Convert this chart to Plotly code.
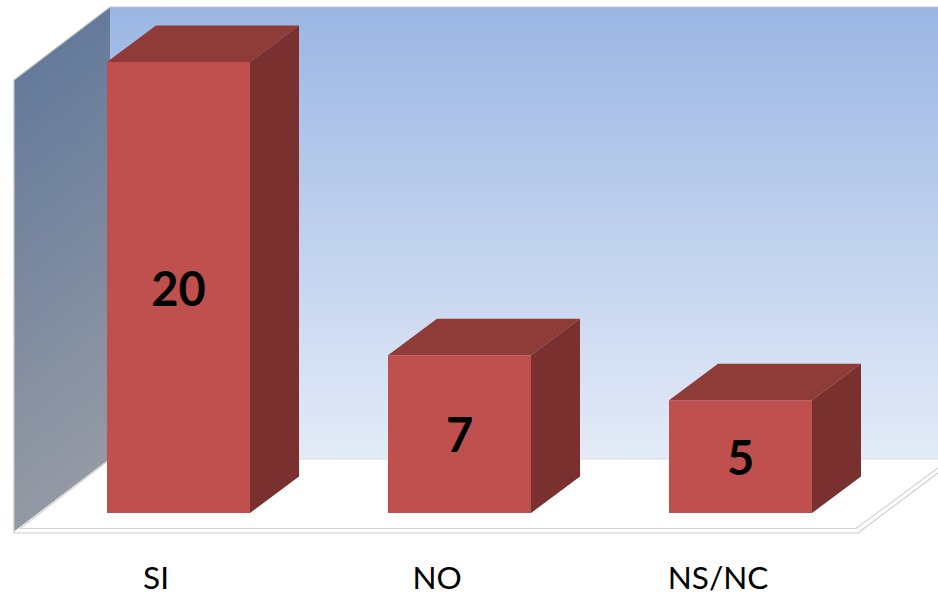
import plotly.graph_objects as go

categories = ["SI", "NO", "NS/NC"]
values = [20, 7, 5]
positions = [0, 1, 2]
label_positions = [-0.08, 0.92, 1.92]

W, H = 938, 596
X0_PX, X_UNIT = 178.5, 281.0
Y0_PX, Y_UNIT = 513.0, 22.55
BAR_WIDTH = 143 / X_UNIT
DX = 49 / X_UNIT
DY = 36.5 / Y_UNIT
FRONT, TOP, SIDE = "#C0504D", "#8F3B37", "#7A302E"


def lerp(a, b, t):
    return tuple(a[i] + (b[i] - a[i]) * t for i in range(3))


def rgb(c):
    return "rgb(%d,%d,%d)" % tuple(round(v) for v in c)


def pth(points):
    return "M " + " L ".join(f"{x / W:.5f},{1 - y / H:.5f}" for x, y in points) + " Z"


def poly(points, fill=None, line=None, width=1):
    return dict(type="path", xref="paper", yref="paper", layer="below", path=pth(points),
                fillcolor=fill or "rgba(0,0,0,0)",
                line=dict(color=line or "rgba(0,0,0,0)", width=width if line else 0))


shapes = []
# back wall gradient
N = 90
for i in range(N):
    t0, t1 = i / N, (i + 1) / N
    y0, y1 = 7 + 452 * t0, 7 + 452 * t1 + 1
    c = lerp((155, 182, 228), (228, 235, 247), (t0 + t1) / 2)
    shapes.append(poly([(110, y0), (938, y0), (938, min(y1, 459)), (110, min(y1, 459))], fill=rgb(c)))
# side wall gradient
for i in range(N):
    t0, t1 = i / N, (i + 1) / N
    h = 451.5
    c = lerp((101, 122, 155), (148, 154, 164), (t0 + t1) / 2)
    a0, a1 = h * t0, min(h * t1 + 1, h)
    shapes.append(poly([(14, 80 + a0), (110, 7 + a0), (110, 7 + a1), (14, 80 + a1)], fill=rgb(c)))
# edges and floor
shapes.append(poly([(14, 532), (110, 459), (938, 459), (938, 471), (858, 532)], fill="#FFFFFF"))
shapes.append(dict(type="path", xref="paper", yref="paper", layer="below",
                   path=pth([(14, 533), (858, 533), (938, 473)]).replace(" Z", ""),
                   line=dict(color="#CFCFCF", width=1.2)))
shapes.append(dict(type="path", xref="paper", yref="paper", layer="below",
                   path=pth([(938, 468), (856, 528.5), (20, 528.5), (108, 461)]).replace(" Z", ""),
                   line=dict(color="#D4D4D4", width=1.2)))
shapes.append(dict(type="path", xref="paper", yref="paper", layer="below",
                   path=pth([(110, 459), (938, 459)]).replace(" Z", ""),
                   line=dict(color="#DADADA", width=1.2)))
shapes.append(dict(type="path", xref="paper", yref="paper", layer="below",
                   path=pth([(14, 533), (14, 80), (110, 7), (938, 7)]).replace(" Z", ""),
                   line=dict(color="#C4C4C4", width=1.2)))

fig = go.Figure()
fig.add_trace(go.Bar(
    x=positions, y=values, width=BAR_WIDTH, marker=dict(color=FRONT, line=dict(width=0)),
    text=[str(v) for v in values], textposition="inside", insidetextanchor="middle",
    textangle=0, constraintext="none",
    textfont=dict(family="Lato", size=47, color="#000000", weight="bold"),
    showlegend=False, hoverinfo="skip"))

for x, v in zip(positions, values):
    l, r = x - BAR_WIDTH / 2, x + BAR_WIDTH / 2
    fig.add_trace(go.Scatter(x=[l, r, r + DX, l + DX, l], y=[v, v, v + DY, v + DY, v],
                             fill="toself", fillcolor=TOP, mode="lines", line=dict(width=0),
                             showlegend=False, hoverinfo="skip"))
    fig.add_trace(go.Scatter(x=[r, r + DX, r + DX, r, r], y=[0, DY, v + DY, v, 0],
                             fill="toself", fillcolor=SIDE, mode="lines", line=dict(width=0),
                             showlegend=False, hoverinfo="skip"))

fig.update_layout(
    width=W, height=H, margin=dict(l=0, r=0, t=0, b=0, autoexpand=False),
    paper_bgcolor="#FFFFFF", plot_bgcolor="rgba(0,0,0,0)", shapes=shapes, showlegend=False,
    font=dict(family="Lato", color="#000000"),
    xaxis=dict(range=[-X0_PX / X_UNIT, (W - X0_PX) / X_UNIT], domain=[0, 1], anchor="free", position=0.067,
               tickmode="array", tickvals=label_positions, ticktext=categories, ticks="",
               tickfont=dict(family="Lato", size=31.5, color="#000000"),
               showgrid=False, zeroline=False, showline=False, fixedrange=True),
    yaxis=dict(range=[(Y0_PX - H) / Y_UNIT, Y0_PX / Y_UNIT], domain=[0, 1],
               showticklabels=False, ticks="", showgrid=False, zeroline=False, showline=False, fixedrange=True),
)
fig.write_html("out.html", config=dict(displayModeBar=False),
               post_script="document.body.style.margin='0';document.body.style.overflow='hidden';")
